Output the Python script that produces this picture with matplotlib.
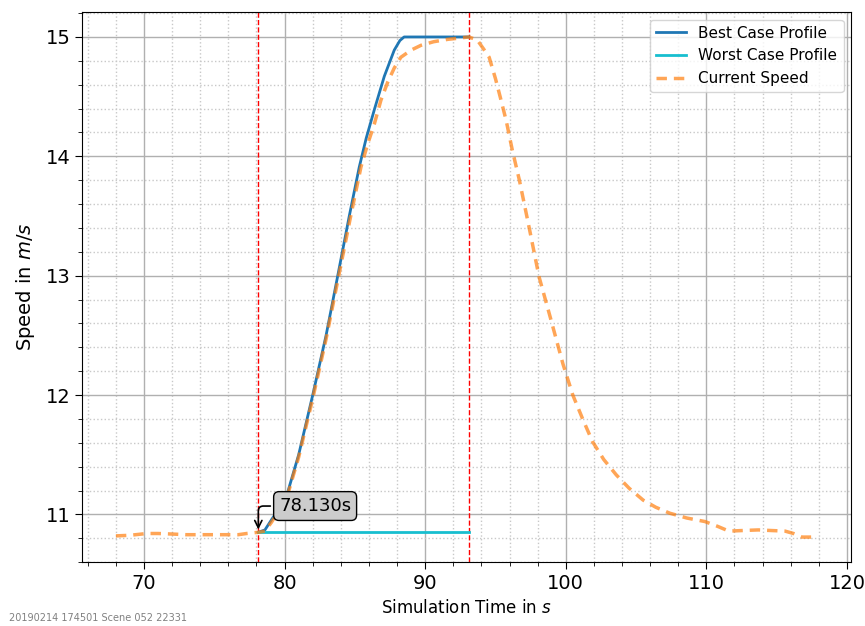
import numpy as np
import matplotlib
matplotlib.use("Agg")
import matplotlib.pyplot as plt
from matplotlib.ticker import MultipleLocator

t_speed = [68.0, 69.0, 70.2, 71.0, 72.1, 73.0, 74.0, 75.0, 75.9, 76.7, 77.3, 78.13,
           78.6, 79.04, 79.6, 80.23, 81.0, 82.0, 82.95, 83.8, 84.65, 85.43, 85.9, 86.38,
           86.85, 87.33, 87.8, 88.27, 89.0, 89.7, 90.6, 91.6, 92.4, 93.1, 93.7, 94.15,
           94.55, 95.0, 95.33, 95.76, 96.2, 96.7, 97.4, 98.1, 98.9, 99.8, 100.5, 101.2,
           101.9, 102.7, 103.6, 104.5, 105.5, 106.4, 107.4, 108.6, 109.9, 110.8, 111.6,
           112.6, 113.7, 114.6, 115.6, 116.2, 116.8, 117.5]
v_speed = [10.82, 10.825, 10.84, 10.84, 10.835, 10.83, 10.83, 10.83, 10.83, 10.83, 10.84, 10.85,
           10.86, 10.93, 11.03, 11.17, 11.48, 11.97, 12.47, 12.97, 13.47, 13.91, 14.1, 14.27,
           14.47, 14.62, 14.74, 14.83, 14.89, 14.93, 14.96, 14.98, 14.99, 15.0, 14.975, 14.9,
           14.83, 14.65, 14.5, 14.3, 14.05, 13.80, 13.4, 12.99, 12.65, 12.26, 12.0, 11.8,
           11.61, 11.46, 11.33, 11.22, 11.12, 11.06, 11.01, 10.97, 10.94, 10.9, 10.86,
           10.865, 10.87, 10.865, 10.86, 10.84, 10.81, 10.81]

# Best case profile
t_best = [78.13, 78.6, 79.04, 79.6, 80.23, 81.0, 82.0, 82.95, 83.78, 84.6, 85.31, 85.8,
          86.38, 87.09, 87.8, 88.2, 88.5, 93.1]
v_best = [10.85, 10.87, 10.95, 11.05, 11.19, 11.5, 12.0, 12.5, 13.0, 13.5, 13.91, 14.15,
          14.39, 14.67, 14.89, 14.97, 15.0, 15.0]

# Worst case profile
t_worst = [78.13, 93.1]
v_worst = [10.85, 10.85]

t_start = 78.13
t_end = 93.1

fig = plt.figure(figsize=(8.65, 6.26), dpi=100)
ax = fig.add_axes([0.095, 0.102, 0.889, 0.879])

ax.plot(t_best, v_best, color="#1f77b4", lw=2, label="Best Case Profile", zorder=3)
ax.plot(t_worst, v_worst, color="#17becf", lw=2, label="Worst Case Profile", zorder=3)
ax.plot(t_speed, v_speed, color="#ff7f0e", alpha=0.7, lw=2.5, ls=(0, (3, 2)),
        label="Current Speed", zorder=4)

ax.axvline(t_start, color="red", ls="--", lw=1)
ax.axvline(t_end, color="red", ls="--", lw=1)

ax.annotate(f"{t_start:.3f}s", xy=(t_start, v_worst[0]), xytext=(82.17, 11.07),
            ha="center", va="center", fontsize=13,
            bbox=dict(boxstyle="round,pad=0.3", fc="#cccccc", ec="black"),
            arrowprops=dict(arrowstyle="->", color="black", lw=1.2,
                            connectionstyle="angle,angleA=0,angleB=90,rad=5"),
            zorder=6)

ax.set_xlim(65.6, 120.3)
ax.set_ylim(10.6, 15.21)
ax.xaxis.set_major_locator(MultipleLocator(10))
ax.xaxis.set_minor_locator(MultipleLocator(2))
ax.yaxis.set_major_locator(MultipleLocator(1))
ax.yaxis.set_minor_locator(MultipleLocator(0.2))
ax.grid(True, which="major", color="#b0b0b0", lw=1)
ax.grid(True, which="minor", color="#c8c8c8", ls=":", lw=1)
ax.tick_params(which="major", labelsize=14, length=5)
ax.tick_params(which="minor", length=3)

ax.set_xlabel("Simulation Time in $s$", fontsize=12)
ax.set_ylabel("Speed in $m/s$", fontsize=14, labelpad=6)
ax.legend(loc="upper right", fontsize=11)

fig.text(0.01, 0.008, "20190214 174501 Scene 052 22331", fontsize=7, color="gray")

fig.savefig("out.png", dpi=100)
